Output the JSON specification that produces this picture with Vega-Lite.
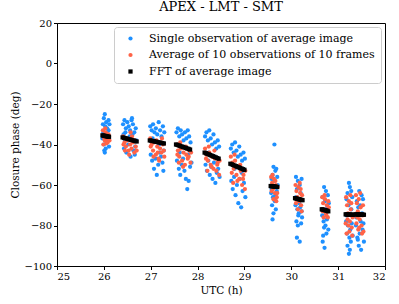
{
"$schema":"https://vega.github.io/schema/vega-lite/v6.json",
"autosize":{"type":"none"},
"padding":{"left":57,"top":23,"right":14,"bottom":38},
"width":328,"height":243,
"title":{"text":"APEX - LMT - SMT","font":"DejaVu Serif","fontSize":13,"fontWeight":"normal","color":"black","offset":4,"frame":"group"},
"config":{
"view":{"stroke":"black","strokeWidth":1},
"axis":{"labelFont":"DejaVu Serif","titleFont":"DejaVu Serif","labelFontSize":10,"titleFontSize":10.5,"titleFontWeight":"normal","labelColor":"black","titleColor":"black","domainColor":"black","tickColor":"black","grid":false,"tickSize":3.5,"labelPadding":2},
"legend":{"orient":"none","legendX":57,"legendY":4,"strokeColor":"#cccccc","fillColor":"white","cornerRadius":3,"padding":6,"labelFont":"DejaVu Serif","labelFontSize":11,"labelColor":"black","symbolSize":14,"rowPadding":4.5,"symbolOffset":5,"labelOffset":13,"labelLimit":400,"symbolStrokeWidth":0}
},
"data":{"values":[
{"t":25.98,"v":-30,"s":"a"},{"t":26.00,"v":-27,"s":"a"},{"t":26.02,"v":-25,"s":"a"},{"t":26.05,"v":-29,"s":"a"},{"t":26.07,"v":-32,"s":"a"},{"t":26.10,"v":-33,"s":"a"},{"t":25.99,"v":-34,"s":"a"},{"t":26.03,"v":-31,"s":"a"},{"t":26.08,"v":-38,"s":"a"},{"t":26.11,"v":-41,"s":"a"},{"t":26.01,"v":-43,"s":"a"},{"t":26.04,"v":-42,"s":"a"},{"t":26.06,"v":-39,"s":"a"},{"t":25.97,"v":-37,"s":"a"},{"t":26.09,"v":-35,"s":"a"},{"t":26.12,"v":-30,"s":"a"},{"t":26.00,"v":-40,"s":"a"},{"t":26.05,"v":-36,"s":"a"},{"t":26.10,"v":-28,"s":"a"},{"t":26.02,"v":-44,"s":"a"},
{"t":26.41,"v":-30,"s":"a"},{"t":26.44,"v":-28,"s":"a"},{"t":26.47,"v":-32,"s":"a"},{"t":26.50,"v":-29,"s":"a"},{"t":26.53,"v":-31,"s":"a"},{"t":26.56,"v":-33,"s":"a"},{"t":26.59,"v":-28,"s":"a"},{"t":26.62,"v":-30,"s":"a"},{"t":26.65,"v":-34,"s":"a"},{"t":26.68,"v":-32,"s":"a"},{"t":26.42,"v":-35,"s":"a"},{"t":26.46,"v":-34,"s":"a"},{"t":26.55,"v":-36,"s":"a"},{"t":26.61,"v":-35,"s":"a"},{"t":26.69,"v":-38,"s":"a"},{"t":26.43,"v":-42,"s":"a"},{"t":26.48,"v":-44,"s":"a"},{"t":26.52,"v":-40,"s":"a"},{"t":26.57,"v":-46,"s":"a"},{"t":26.63,"v":-43,"s":"a"},{"t":26.67,"v":-41,"s":"a"},{"t":26.45,"v":-38,"s":"a"},{"t":26.60,"v":-27,"s":"a"},{"t":26.66,"v":-45,"s":"a"},
{"t":26.99,"v":-31,"s":"a"},{"t":27.02,"v":-33,"s":"a"},{"t":27.05,"v":-30,"s":"a"},{"t":27.08,"v":-34,"s":"a"},{"t":27.11,"v":-32,"s":"a"},{"t":27.14,"v":-35,"s":"a"},{"t":27.17,"v":-29,"s":"a"},{"t":27.20,"v":-33,"s":"a"},{"t":27.23,"v":-36,"s":"a"},{"t":27.26,"v":-31,"s":"a"},{"t":27.29,"v":-34,"s":"a"},{"t":27.00,"v":-45,"s":"a"},{"t":27.03,"v":-48,"s":"a"},{"t":27.07,"v":-52,"s":"a"},{"t":27.10,"v":-47,"s":"a"},{"t":27.13,"v":-55,"s":"a"},{"t":27.16,"v":-50,"s":"a"},{"t":27.19,"v":-44,"s":"a"},{"t":27.22,"v":-46,"s":"a"},{"t":27.25,"v":-49,"s":"a"},{"t":27.28,"v":-43,"s":"a"},{"t":27.04,"v":-37,"s":"a"},{"t":27.18,"v":-40,"s":"a"},{"t":27.27,"v":-53,"s":"a"},
{"t":27.55,"v":-34,"s":"a"},{"t":27.58,"v":-32,"s":"a"},{"t":27.61,"v":-36,"s":"a"},{"t":27.64,"v":-33,"s":"a"},{"t":27.67,"v":-35,"s":"a"},{"t":27.70,"v":-38,"s":"a"},{"t":27.73,"v":-34,"s":"a"},{"t":27.76,"v":-37,"s":"a"},{"t":27.79,"v":-33,"s":"a"},{"t":27.82,"v":-36,"s":"a"},{"t":27.85,"v":-39,"s":"a"},{"t":27.56,"v":-48,"s":"a"},{"t":27.60,"v":-52,"s":"a"},{"t":27.63,"v":-55,"s":"a"},{"t":27.66,"v":-50,"s":"a"},{"t":27.69,"v":-47,"s":"a"},{"t":27.72,"v":-53,"s":"a"},{"t":27.75,"v":-57,"s":"a"},{"t":27.78,"v":-62,"s":"a"},{"t":27.81,"v":-58,"s":"a"},{"t":27.84,"v":-51,"s":"a"},{"t":27.87,"v":-49,"s":"a"},{"t":27.62,"v":-44,"s":"a"},{"t":27.80,"v":-45,"s":"a"},
{"t":28.16,"v":-36,"s":"a"},{"t":28.19,"v":-34,"s":"a"},{"t":28.22,"v":-38,"s":"a"},{"t":28.25,"v":-33,"s":"a"},{"t":28.28,"v":-37,"s":"a"},{"t":28.31,"v":-40,"s":"a"},{"t":28.34,"v":-35,"s":"a"},{"t":28.37,"v":-39,"s":"a"},{"t":28.40,"v":-42,"s":"a"},{"t":28.43,"v":-38,"s":"a"},{"t":28.46,"v":-41,"s":"a"},{"t":28.17,"v":-50,"s":"a"},{"t":28.20,"v":-53,"s":"a"},{"t":28.23,"v":-48,"s":"a"},{"t":28.26,"v":-55,"s":"a"},{"t":28.29,"v":-51,"s":"a"},{"t":28.32,"v":-57,"s":"a"},{"t":28.35,"v":-49,"s":"a"},{"t":28.38,"v":-59,"s":"a"},{"t":28.41,"v":-54,"s":"a"},{"t":28.44,"v":-52,"s":"a"},{"t":28.47,"v":-56,"s":"a"},{"t":28.24,"v":-44,"s":"a"},{"t":28.36,"v":-46,"s":"a"},
{"t":28.71,"v":-42,"s":"a"},{"t":28.74,"v":-40,"s":"a"},{"t":28.77,"v":-44,"s":"a"},{"t":28.80,"v":-39,"s":"a"},{"t":28.83,"v":-43,"s":"a"},{"t":28.86,"v":-46,"s":"a"},{"t":28.89,"v":-41,"s":"a"},{"t":28.92,"v":-45,"s":"a"},{"t":28.95,"v":-48,"s":"a"},{"t":28.98,"v":-44,"s":"a"},{"t":29.01,"v":-47,"s":"a"},{"t":28.72,"v":-58,"s":"a"},{"t":28.75,"v":-62,"s":"a"},{"t":28.78,"v":-56,"s":"a"},{"t":28.81,"v":-65,"s":"a"},{"t":28.84,"v":-60,"s":"a"},{"t":28.87,"v":-69,"s":"a"},{"t":28.90,"v":-57,"s":"a"},{"t":28.93,"v":-71,"s":"a"},{"t":28.96,"v":-63,"s":"a"},{"t":28.99,"v":-59,"s":"a"},{"t":29.02,"v":-66,"s":"a"},{"t":28.79,"v":-52,"s":"a"},{"t":28.94,"v":-54,"s":"a"},
{"t":29.64,"v":-40,"s":"a"},{"t":29.62,"v":-51,"s":"a"},{"t":29.66,"v":-53,"s":"a"},{"t":29.60,"v":-55,"s":"a"},{"t":29.68,"v":-52,"s":"a"},{"t":29.58,"v":-57,"s":"a"},{"t":29.70,"v":-56,"s":"a"},{"t":29.63,"v":-58,"s":"a"},{"t":29.57,"v":-64,"s":"a"},{"t":29.61,"v":-66,"s":"a"},{"t":29.65,"v":-68,"s":"a"},{"t":29.69,"v":-63,"s":"a"},{"t":29.59,"v":-70,"s":"a"},{"t":29.67,"v":-72,"s":"a"},{"t":29.62,"v":-74,"s":"a"},{"t":29.60,"v":-77,"s":"a"},{"t":29.66,"v":-65,"s":"a"},{"t":29.71,"v":-60,"s":"a"},{"t":29.64,"v":-67,"s":"a"},{"t":29.58,"v":-62,"s":"a"},
{"t":30.10,"v":-56,"s":"a"},{"t":30.14,"v":-58,"s":"a"},{"t":30.18,"v":-60,"s":"a"},{"t":30.22,"v":-57,"s":"a"},{"t":30.12,"v":-62,"s":"a"},{"t":30.20,"v":-64,"s":"a"},{"t":30.09,"v":-70,"s":"a"},{"t":30.13,"v":-72,"s":"a"},{"t":30.16,"v":-74,"s":"a"},{"t":30.19,"v":-71,"s":"a"},{"t":30.23,"v":-76,"s":"a"},{"t":30.11,"v":-78,"s":"a"},{"t":30.15,"v":-75,"s":"a"},{"t":30.21,"v":-79,"s":"a"},{"t":30.17,"v":-69,"s":"a"},{"t":30.12,"v":-86,"s":"a"},{"t":30.18,"v":-88,"s":"a"},{"t":30.14,"v":-80,"s":"a"},{"t":30.22,"v":-73,"s":"a"},{"t":30.10,"v":-66,"s":"a"},
{"t":30.70,"v":-61,"s":"a"},{"t":30.74,"v":-63,"s":"a"},{"t":30.67,"v":-66,"s":"a"},{"t":30.78,"v":-65,"s":"a"},{"t":30.72,"v":-68,"s":"a"},{"t":30.66,"v":-75,"s":"a"},{"t":30.69,"v":-78,"s":"a"},{"t":30.73,"v":-80,"s":"a"},{"t":30.76,"v":-77,"s":"a"},{"t":30.79,"v":-82,"s":"a"},{"t":30.68,"v":-85,"s":"a"},{"t":30.75,"v":-84,"s":"a"},{"t":30.71,"v":-91,"s":"a"},{"t":30.77,"v":-71,"s":"a"},{"t":30.67,"v":-88,"s":"a"},{"t":30.74,"v":-74,"s":"a"},{"t":30.80,"v":-69,"s":"a"},{"t":30.70,"v":-81,"s":"a"},
{"t":31.23,"v":-59,"s":"a"},{"t":31.25,"v":-61,"s":"a"},{"t":31.20,"v":-64,"s":"a"},{"t":31.28,"v":-63,"s":"a"},{"t":31.18,"v":-67,"s":"a"},{"t":31.30,"v":-66,"s":"a"},{"t":31.22,"v":-70,"s":"a"},{"t":31.17,"v":-78,"s":"a"},{"t":31.21,"v":-80,"s":"a"},{"t":31.26,"v":-82,"s":"a"},{"t":31.29,"v":-79,"s":"a"},{"t":31.19,"v":-84,"s":"a"},{"t":31.24,"v":-86,"s":"a"},{"t":31.27,"v":-88,"s":"a"},{"t":31.20,"v":-90,"s":"a"},{"t":31.23,"v":-94,"s":"a"},{"t":31.31,"v":-85,"s":"a"},{"t":31.18,"v":-75,"s":"a"},{"t":31.25,"v":-92,"s":"a"},{"t":31.28,"v":-72,"s":"a"},
{"t":31.45,"v":-63,"s":"a"},{"t":31.50,"v":-65,"s":"a"},{"t":31.40,"v":-68,"s":"a"},{"t":31.53,"v":-67,"s":"a"},{"t":31.43,"v":-71,"s":"a"},{"t":31.48,"v":-78,"s":"a"},{"t":31.38,"v":-80,"s":"a"},{"t":31.52,"v":-82,"s":"a"},{"t":31.46,"v":-84,"s":"a"},{"t":31.41,"v":-86,"s":"a"},{"t":31.55,"v":-88,"s":"a"},{"t":31.44,"v":-90,"s":"a"},{"t":31.49,"v":-92,"s":"a"},{"t":31.39,"v":-76,"s":"a"},{"t":31.51,"v":-74,"s":"a"},{"t":31.42,"v":-87,"s":"a"},{"t":31.54,"v":-79,"s":"a"},{"t":31.47,"v":-70,"s":"a"},
{"t":25.98,"v":-33,"s":"b"},{"t":26.00,"v":-36,"s":"b"},{"t":26.02,"v":-38,"s":"b"},{"t":26.04,"v":-34,"s":"b"},{"t":26.06,"v":-37,"s":"b"},{"t":26.08,"v":-39,"s":"b"},{"t":26.10,"v":-35,"s":"b"},{"t":26.12,"v":-38,"s":"b"},{"t":25.99,"v":-40,"s":"b"},{"t":26.03,"v":-32,"s":"b"},{"t":26.07,"v":-35,"s":"b"},{"t":26.11,"v":-36,"s":"b"},{"t":26.05,"v":-39.5,"s":"b"},{"t":26.01,"v":-37,"s":"b"},
{"t":26.41,"v":-36,"s":"b"},{"t":26.44,"v":-39,"s":"b"},{"t":26.47,"v":-41,"s":"b"},{"t":26.50,"v":-38,"s":"b"},{"t":26.53,"v":-43,"s":"b"},{"t":26.56,"v":-40,"s":"b"},{"t":26.59,"v":-42,"s":"b"},{"t":26.62,"v":-39,"s":"b"},{"t":26.65,"v":-44,"s":"b"},{"t":26.68,"v":-41,"s":"b"},{"t":26.42,"v":-40,"s":"b"},{"t":26.48,"v":-37,"s":"b"},{"t":26.54,"v":-45,"s":"b"},{"t":26.60,"v":-36,"s":"b"},{"t":26.66,"v":-38,"s":"b"},{"t":26.70,"v":-43,"s":"b"},{"t":26.45,"v":-43,"s":"b"},{"t":26.57,"v":-34,"s":"b"},
{"t":26.99,"v":-37,"s":"b"},{"t":27.02,"v":-40,"s":"b"},{"t":27.05,"v":-43,"s":"b"},{"t":27.08,"v":-39,"s":"b"},{"t":27.11,"v":-45,"s":"b"},{"t":27.14,"v":-41,"s":"b"},{"t":27.17,"v":-47,"s":"b"},{"t":27.20,"v":-42,"s":"b"},{"t":27.23,"v":-44,"s":"b"},{"t":27.26,"v":-40,"s":"b"},{"t":27.29,"v":-46,"s":"b"},{"t":27.00,"v":-41,"s":"b"},{"t":27.06,"v":-46,"s":"b"},{"t":27.12,"v":-38,"s":"b"},{"t":27.18,"v":-48,"s":"b"},{"t":27.24,"v":-37,"s":"b"},{"t":27.28,"v":-43,"s":"b"},{"t":27.15,"v":-44,"s":"b"},
{"t":27.55,"v":-40,"s":"b"},{"t":27.58,"v":-43,"s":"b"},{"t":27.61,"v":-46,"s":"b"},{"t":27.64,"v":-42,"s":"b"},{"t":27.67,"v":-48,"s":"b"},{"t":27.70,"v":-44,"s":"b"},{"t":27.73,"v":-50,"s":"b"},{"t":27.76,"v":-45,"s":"b"},{"t":27.79,"v":-47,"s":"b"},{"t":27.82,"v":-43,"s":"b"},{"t":27.85,"v":-49,"s":"b"},{"t":27.57,"v":-45,"s":"b"},{"t":27.63,"v":-39,"s":"b"},{"t":27.69,"v":-51,"s":"b"},{"t":27.75,"v":-41,"s":"b"},{"t":27.81,"v":-46,"s":"b"},{"t":27.86,"v":-44,"s":"b"},{"t":27.60,"v":-49,"s":"b"},
{"t":28.16,"v":-42,"s":"b"},{"t":28.19,"v":-45,"s":"b"},{"t":28.22,"v":-48,"s":"b"},{"t":28.25,"v":-44,"s":"b"},{"t":28.28,"v":-50,"s":"b"},{"t":28.31,"v":-46,"s":"b"},{"t":28.34,"v":-52,"s":"b"},{"t":28.37,"v":-47,"s":"b"},{"t":28.40,"v":-53,"s":"b"},{"t":28.43,"v":-49,"s":"b"},{"t":28.46,"v":-55,"s":"b"},{"t":28.18,"v":-47,"s":"b"},{"t":28.24,"v":-41,"s":"b"},{"t":28.30,"v":-51,"s":"b"},{"t":28.36,"v":-43,"s":"b"},{"t":28.42,"v":-50,"s":"b"},{"t":28.47,"v":-48,"s":"b"},{"t":28.21,"v":-53,"s":"b"},
{"t":28.71,"v":-46,"s":"b"},{"t":28.74,"v":-49,"s":"b"},{"t":28.77,"v":-52,"s":"b"},{"t":28.80,"v":-48,"s":"b"},{"t":28.83,"v":-55,"s":"b"},{"t":28.86,"v":-51,"s":"b"},{"t":28.89,"v":-57,"s":"b"},{"t":28.92,"v":-53,"s":"b"},{"t":28.95,"v":-60,"s":"b"},{"t":28.98,"v":-55,"s":"b"},{"t":29.01,"v":-62,"s":"b"},{"t":28.73,"v":-54,"s":"b"},{"t":28.79,"v":-45,"s":"b"},{"t":28.85,"v":-58,"s":"b"},{"t":28.91,"v":-50,"s":"b"},{"t":28.97,"v":-57,"s":"b"},{"t":29.02,"v":-53,"s":"b"},{"t":28.76,"v":-59,"s":"b"},
{"t":29.57,"v":-56,"s":"b"},{"t":29.59,"v":-59,"s":"b"},{"t":29.61,"v":-62,"s":"b"},{"t":29.63,"v":-57,"s":"b"},{"t":29.65,"v":-64,"s":"b"},{"t":29.67,"v":-60,"s":"b"},{"t":29.69,"v":-66,"s":"b"},{"t":29.71,"v":-61,"s":"b"},{"t":29.58,"v":-63,"s":"b"},{"t":29.62,"v":-67,"s":"b"},{"t":29.66,"v":-58,"s":"b"},{"t":29.70,"v":-64,"s":"b"},{"t":29.60,"v":-55,"s":"b"},{"t":29.68,"v":-68,"s":"b"},
{"t":30.09,"v":-60,"s":"b"},{"t":30.11,"v":-63,"s":"b"},{"t":30.13,"v":-66,"s":"b"},{"t":30.15,"v":-61,"s":"b"},{"t":30.17,"v":-68,"s":"b"},{"t":30.19,"v":-64,"s":"b"},{"t":30.21,"v":-70,"s":"b"},{"t":30.23,"v":-65,"s":"b"},{"t":30.10,"v":-69,"s":"b"},{"t":30.14,"v":-72,"s":"b"},{"t":30.18,"v":-59,"s":"b"},{"t":30.22,"v":-73,"s":"b"},{"t":30.12,"v":-67,"s":"b"},{"t":30.20,"v":-62,"s":"b"},
{"t":30.66,"v":-66,"s":"b"},{"t":30.68,"v":-69,"s":"b"},{"t":30.70,"v":-72,"s":"b"},{"t":30.72,"v":-67,"s":"b"},{"t":30.74,"v":-74,"s":"b"},{"t":30.76,"v":-70,"s":"b"},{"t":30.78,"v":-76,"s":"b"},{"t":30.80,"v":-71,"s":"b"},{"t":30.67,"v":-73,"s":"b"},{"t":30.71,"v":-65,"s":"b"},{"t":30.75,"v":-75,"s":"b"},{"t":30.79,"v":-68,"s":"b"},{"t":30.69,"v":-76,"s":"b"},{"t":30.77,"v":-73,"s":"b"},
{"t":31.17,"v":-66,"s":"b"},{"t":31.19,"v":-70,"s":"b"},{"t":31.21,"v":-74,"s":"b"},{"t":31.23,"v":-68,"s":"b"},{"t":31.25,"v":-78,"s":"b"},{"t":31.27,"v":-72,"s":"b"},{"t":31.29,"v":-81,"s":"b"},{"t":31.31,"v":-76,"s":"b"},{"t":31.18,"v":-84,"s":"b"},{"t":31.22,"v":-80,"s":"b"},{"t":31.26,"v":-65,"s":"b"},{"t":31.30,"v":-85,"s":"b"},{"t":31.20,"v":-77,"s":"b"},{"t":31.24,"v":-83,"s":"b"},{"t":31.28,"v":-69,"s":"b"},{"t":31.16,"v":-79,"s":"b"},
{"t":31.38,"v":-65,"s":"b"},{"t":31.40,"v":-69,"s":"b"},{"t":31.42,"v":-73,"s":"b"},{"t":31.44,"v":-67,"s":"b"},{"t":31.46,"v":-77,"s":"b"},{"t":31.48,"v":-71,"s":"b"},{"t":31.50,"v":-80,"s":"b"},{"t":31.52,"v":-75,"s":"b"},{"t":31.54,"v":-83,"s":"b"},{"t":31.39,"v":-79,"s":"b"},{"t":31.43,"v":-82,"s":"b"},{"t":31.47,"v":-64,"s":"b"},{"t":31.51,"v":-84,"s":"b"},{"t":31.41,"v":-76,"s":"b"},{"t":31.45,"v":-81,"s":"b"},{"t":31.53,"v":-70,"s":"b"},
{"t":25.97,"v":-35.5,"s":"c"},{"t":25.99,"v":-35.6,"s":"c"},{"t":26.01,"v":-35.7,"s":"c"},{"t":26.03,"v":-35.8,"s":"c"},{"t":26.05,"v":-35.9,"s":"c"},{"t":26.07,"v":-36.0,"s":"c"},{"t":26.09,"v":-36.1,"s":"c"},{"t":26.11,"v":-36.2,"s":"c"},
{"t":26.40,"v":-36.5,"s":"c"},{"t":26.43,"v":-36.7,"s":"c"},{"t":26.46,"v":-36.9,"s":"c"},{"t":26.49,"v":-37.1,"s":"c"},{"t":26.52,"v":-37.3,"s":"c"},{"t":26.55,"v":-37.5,"s":"c"},{"t":26.58,"v":-37.7,"s":"c"},{"t":26.61,"v":-37.9,"s":"c"},{"t":26.64,"v":-38.1,"s":"c"},{"t":26.67,"v":-38.3,"s":"c"},{"t":26.70,"v":-38.5,"s":"c"},
{"t":26.98,"v":-38.0,"s":"c"},{"t":27.01,"v":-38.1,"s":"c"},{"t":27.04,"v":-38.3,"s":"c"},{"t":27.07,"v":-38.4,"s":"c"},{"t":27.10,"v":-38.6,"s":"c"},{"t":27.13,"v":-38.7,"s":"c"},{"t":27.16,"v":-38.9,"s":"c"},{"t":27.19,"v":-39.0,"s":"c"},{"t":27.22,"v":-39.2,"s":"c"},{"t":27.25,"v":-39.3,"s":"c"},{"t":27.28,"v":-39.5,"s":"c"},
{"t":27.54,"v":-40.0,"s":"c"},{"t":27.57,"v":-40.2,"s":"c"},{"t":27.60,"v":-40.5,"s":"c"},{"t":27.63,"v":-40.7,"s":"c"},{"t":27.66,"v":-41.0,"s":"c"},{"t":27.69,"v":-41.2,"s":"c"},{"t":27.72,"v":-41.5,"s":"c"},{"t":27.75,"v":-41.7,"s":"c"},{"t":27.78,"v":-42.0,"s":"c"},{"t":27.81,"v":-42.2,"s":"c"},{"t":27.84,"v":-42.5,"s":"c"},
{"t":28.15,"v":-44.0,"s":"c"},{"t":28.18,"v":-44.3,"s":"c"},{"t":28.21,"v":-44.6,"s":"c"},{"t":28.24,"v":-44.9,"s":"c"},{"t":28.27,"v":-45.2,"s":"c"},{"t":28.30,"v":-45.5,"s":"c"},{"t":28.33,"v":-45.8,"s":"c"},{"t":28.36,"v":-46.1,"s":"c"},{"t":28.39,"v":-46.4,"s":"c"},{"t":28.42,"v":-46.7,"s":"c"},{"t":28.45,"v":-47.0,"s":"c"},
{"t":28.70,"v":-49.5,"s":"c"},{"t":28.73,"v":-49.8,"s":"c"},{"t":28.76,"v":-50.1,"s":"c"},{"t":28.79,"v":-50.4,"s":"c"},{"t":28.82,"v":-50.7,"s":"c"},{"t":28.85,"v":-51.0,"s":"c"},{"t":28.88,"v":-51.3,"s":"c"},{"t":28.91,"v":-51.6,"s":"c"},{"t":28.94,"v":-51.9,"s":"c"},{"t":28.97,"v":-52.2,"s":"c"},{"t":29.00,"v":-52.5,"s":"c"},
{"t":29.56,"v":-60.5,"s":"c"},{"t":29.58,"v":-60.6,"s":"c"},{"t":29.60,"v":-60.6,"s":"c"},{"t":29.62,"v":-60.7,"s":"c"},{"t":29.64,"v":-60.8,"s":"c"},{"t":29.66,"v":-60.8,"s":"c"},{"t":29.68,"v":-60.9,"s":"c"},{"t":29.70,"v":-61.0,"s":"c"},
{"t":30.08,"v":-66.5,"s":"c"},{"t":30.10,"v":-66.6,"s":"c"},{"t":30.12,"v":-66.8,"s":"c"},{"t":30.14,"v":-66.9,"s":"c"},{"t":30.16,"v":-67.0,"s":"c"},{"t":30.18,"v":-67.1,"s":"c"},{"t":30.20,"v":-67.3,"s":"c"},{"t":30.22,"v":-67.4,"s":"c"},{"t":30.24,"v":-67.5,"s":"c"},
{"t":30.65,"v":-72.0,"s":"c"},{"t":30.67,"v":-72.1,"s":"c"},{"t":30.69,"v":-72.3,"s":"c"},{"t":30.71,"v":-72.4,"s":"c"},{"t":30.73,"v":-72.5,"s":"c"},{"t":30.75,"v":-72.6,"s":"c"},{"t":30.77,"v":-72.8,"s":"c"},{"t":30.79,"v":-73.0,"s":"c"},
{"t":31.16,"v":-74.5,"s":"c"},{"t":31.18,"v":-74.5,"s":"c"},{"t":31.20,"v":-74.6,"s":"c"},{"t":31.22,"v":-74.6,"s":"c"},{"t":31.24,"v":-74.6,"s":"c"},{"t":31.26,"v":-74.6,"s":"c"},{"t":31.28,"v":-74.7,"s":"c"},{"t":31.30,"v":-74.7,"s":"c"},{"t":31.32,"v":-74.7,"s":"c"},
{"t":31.37,"v":-74.5,"s":"c"},{"t":31.39,"v":-74.5,"s":"c"},{"t":31.41,"v":-74.5,"s":"c"},{"t":31.43,"v":-74.6,"s":"c"},{"t":31.45,"v":-74.6,"s":"c"},{"t":31.47,"v":-74.6,"s":"c"},{"t":31.49,"v":-74.6,"s":"c"},{"t":31.51,"v":-74.6,"s":"c"},{"t":31.53,"v":-74.7,"s":"c"},{"t":31.55,"v":-74.7,"s":"c"}
]},
"mark":{"type":"point","filled":true,"opacity":1,"strokeWidth":0},
"encoding":{
"x":{"field":"t","type":"quantitative","scale":{"domain":[25,32],"nice":false,"zero":false},"axis":{"title":"UTC (h)","values":[25,26,27,28,29,30,31,32],"format":"d"}},
"y":{"field":"v","type":"quantitative","scale":{"domain":[-100,20],"nice":false,"zero":false},"axis":{"title":"Closure phase (deg)","values":[-100,-80,-60,-40,-20,0,20],"format":"d"}},
"color":{"field":"s","type":"nominal","scale":{"domain":["a","b","c"],"range":["#1e90ff","#ff6347","#000000"]},"legend":{"title":null,"labelFont":"DejaVu Serif","labelExpr":"datum.label == 'a' ? 'Single observation of average image' : datum.label == 'b' ? 'Average of 10 observations of 10 frames' : 'FFT of average image'"}},
"shape":{"field":"s","type":"nominal","scale":{"domain":["a","b","c"],"range":["circle","circle","square"]},"legend":{"title":null,"labelFont":"DejaVu Serif","labelExpr":"datum.label == 'a' ? 'Single observation of average image' : datum.label == 'b' ? 'Average of 10 observations of 10 frames' : 'FFT of average image'"}},
"size":{"field":"s","type":"nominal","scale":{"domain":["a","b","c"],"range":[18,18,28]},"legend":null}
}
}
